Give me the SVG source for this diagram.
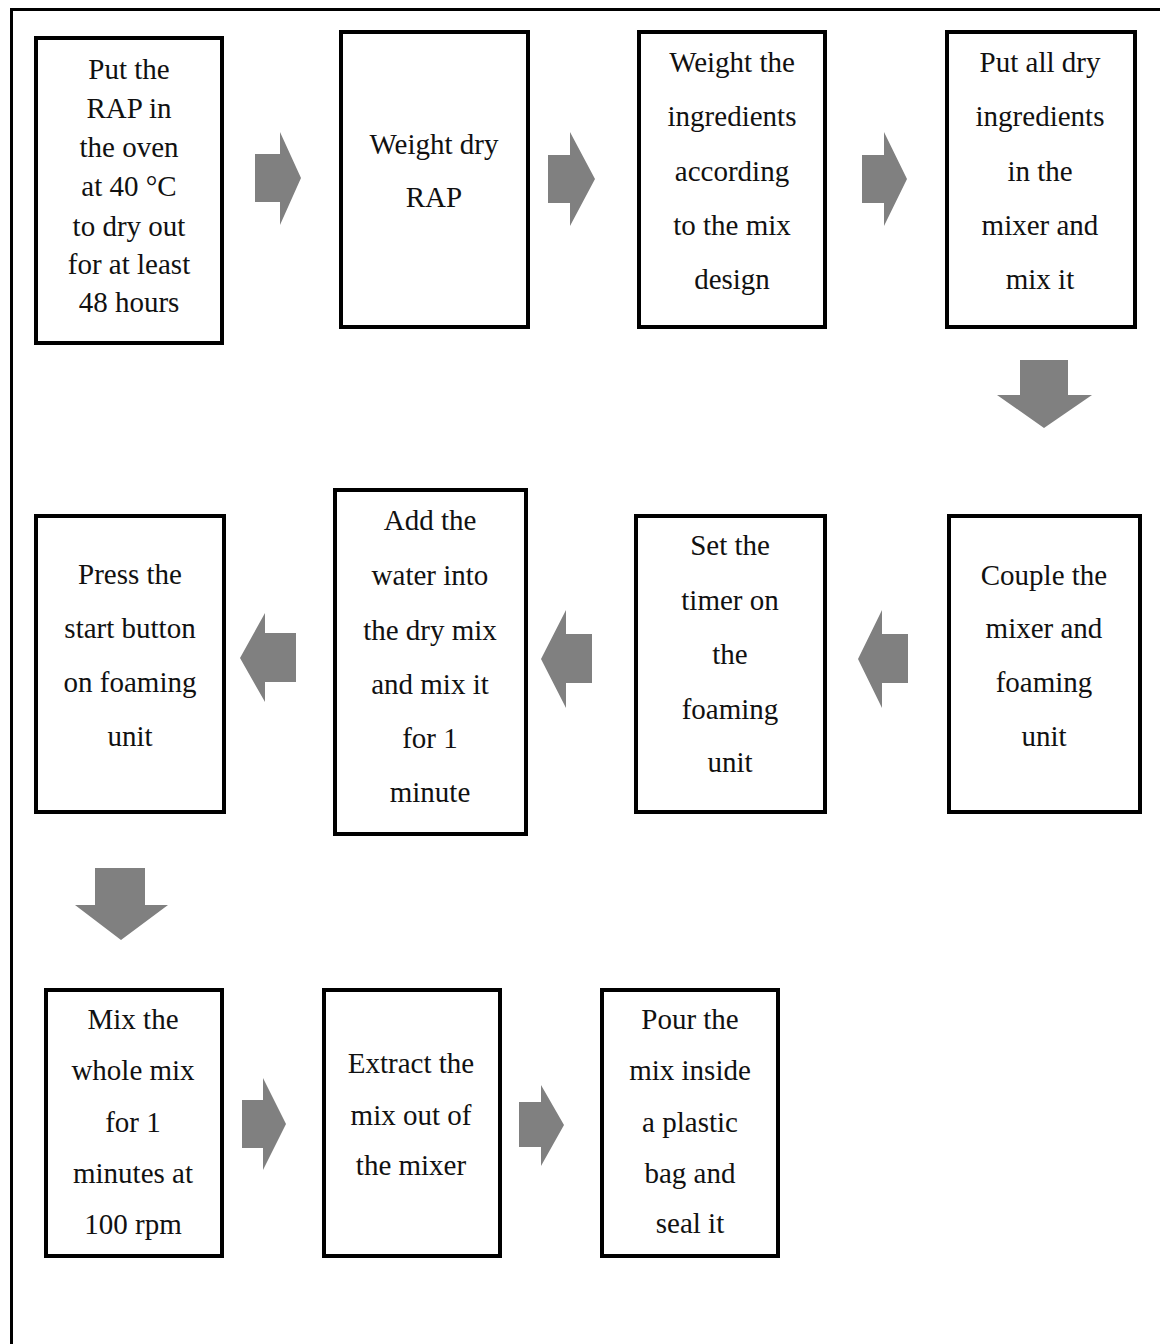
<svg xmlns="http://www.w3.org/2000/svg" width="1160" height="1344" viewBox="0 0 1160 1344">
<style>
.box{fill:#fff;stroke:#000;stroke-width:4}
.arr{fill:#808080}
text{font-family:"Liberation Serif","Times New Roman",serif;font-size:29px;fill:#111;text-anchor:middle}
</style>
<rect width="1160" height="1344" fill="#fff"/>
<path d="M11.5 1344 V9.5 H1160" fill="none" stroke="#000" stroke-width="3"/>
<g id="n1"><rect class="box" x="36" y="38" width="186" height="305"/>
<text x="129" y="79">Put the</text><text x="129" y="118">RAP in</text><text x="129" y="157">the oven</text><text x="129" y="196">at 40 °C</text><text x="129" y="236">to dry out</text><text x="129" y="274">for at least</text><text x="129" y="312">48 hours</text></g>
<g id="n2"><rect class="box" x="341" y="32" width="187" height="295"/>
<text x="434" y="154">Weight dry</text><text x="434" y="207">RAP</text></g>
<g id="n3"><rect class="box" x="639" y="32" width="186" height="295"/>
<text x="732" y="72">Weight the</text><text x="732" y="126">ingredients</text><text x="732" y="181">according</text><text x="732" y="235">to the mix</text><text x="732" y="289">design</text></g>
<g id="n4"><rect class="box" x="947" y="32" width="188" height="295"/>
<text x="1040" y="72">Put all dry</text><text x="1040" y="126">ingredients</text><text x="1040" y="181">in the</text><text x="1040" y="235">mixer and</text><text x="1040" y="289">mix it</text></g>
<g id="n5"><rect class="box" x="949" y="516" width="191" height="296"/>
<text x="1044" y="585">Couple the</text><text x="1044" y="638">mixer and</text><text x="1044" y="692">foaming</text><text x="1044" y="746">unit</text></g>
<g id="n6"><rect class="box" x="636" y="516" width="189" height="296"/>
<text x="730" y="555">Set the</text><text x="730" y="610">timer on</text><text x="730" y="664">the</text><text x="730" y="719">foaming</text><text x="730" y="772">unit</text></g>
<g id="n7"><rect class="box" x="335" y="490" width="191" height="344"/>
<text x="430" y="530">Add the</text><text x="430" y="585">water into</text><text x="430" y="640">the dry mix</text><text x="430" y="694">and mix it</text><text x="430" y="748">for 1</text><text x="430" y="802">minute</text></g>
<g id="n8"><rect class="box" x="36" y="516" width="188" height="296"/>
<text x="130" y="584">Press the</text><text x="130" y="638">start button</text><text x="130" y="692">on foaming</text><text x="130" y="746">unit</text></g>
<g id="n9"><rect class="box" x="46" y="990" width="176" height="266"/>
<text x="133" y="1029">Mix the</text><text x="133" y="1080">whole mix</text><text x="133" y="1132">for 1</text><text x="133" y="1183">minutes at</text><text x="133" y="1234">100 rpm</text></g>
<g id="n10"><rect class="box" x="324" y="990" width="176" height="266"/>
<text x="411" y="1073">Extract the</text><text x="411" y="1125">mix out of</text><text x="411" y="1175">the mixer</text></g>
<g id="n11"><rect class="box" x="602" y="990" width="176" height="266"/>
<text x="690" y="1029">Pour the</text><text x="690" y="1080">mix inside</text><text x="690" y="1132">a plastic</text><text x="690" y="1183">bag and</text><text x="690" y="1233">seal it</text></g>
<g id="connectors">
<polygon class="arr" points="255,154 280,154 280,132 301,178 280,225 280,202 255,202"/>
<polygon class="arr" points="548,155 570,155 570,132 595,179 570,226 570,203 548,203"/>
<polygon class="arr" points="862,155 884,155 884,132 907,179 884,226 884,203 862,203"/>
<polygon class="arr" points="1020,360 1068,360 1068,395 1092,395 1044,428 997,395 1020,395"/>
<polygon class="arr" points="908,634 882,634 882,610 858,659 882,708 882,683 908,683"/>
<polygon class="arr" points="592,634 566,634 566,610 541,659 566,708 566,683 592,683"/>
<polygon class="arr" points="296,633 265,633 265,613 240,658 265,702 265,682 296,682"/>
<polygon class="arr" points="95,868 145,868 145,905 168,905 121,940 75,905 95,905"/>
<polygon class="arr" points="242,1100 263,1100 263,1078 286,1124 263,1170 263,1148 242,1148"/>
<polygon class="arr" points="519,1102 541,1102 541,1085 564,1125 541,1166 541,1147 519,1147"/>
</g>
</svg>
